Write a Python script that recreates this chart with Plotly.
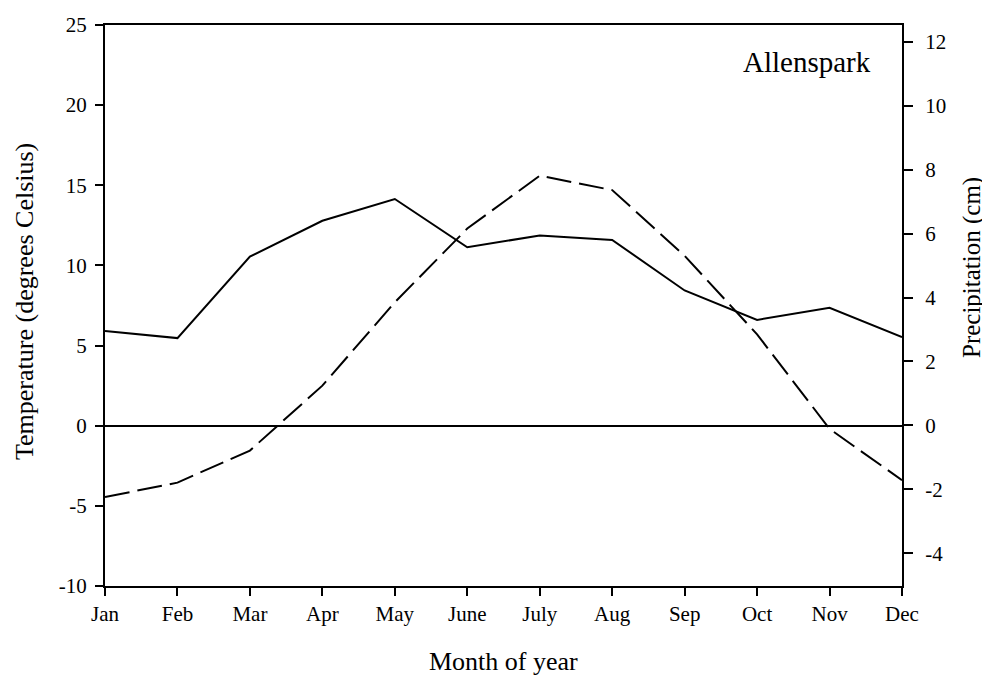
import plotly.graph_objects as go

months = ["Jan", "Feb", "Mar", "Apr", "May", "June", "July", "Aug", "Sep", "Oct", "Nov", "Dec"]
temperature_c = [-4.45, -3.55, -1.55, 2.5, 7.7, 12.3, 15.6, 14.7, 10.6, 5.7, -0.2, -3.4]
precip_cm = [2.95, 2.73, 5.28, 6.4, 7.08, 5.57, 5.94, 5.8, 4.22, 3.3, 3.68, 2.76]
left_ticks = [-10, -5, 0, 5, 10, 15, 20, 25]
right_ticks = [-4, -2, 0, 2, 4, 6, 8, 10, 12]

FONT = "Liberation Serif, Times New Roman, serif"
xs = list(range(len(months)))

# The page body has an 8px default margin; size the figure to reach the window edges
# and place everything in screen pixels.
OFF = 8
W, H = 990 - OFF, 677 - OFF
PLOT_L, PLOT_R, PLOT_T, PLOT_B = 105, 902, 25, 586  # screen pixels
L = PLOT_L - OFF
T = PLOT_T - OFF
R = W - (PLOT_R - OFF)
B = H - (PLOT_B - OFF)

fig = go.Figure()
fig.add_trace(go.Scatter(x=xs, y=precip_cm, mode="lines", yaxis="y2",
                         line=dict(color="black", width=2), name="Precipitation"))
fig.add_trace(go.Scatter(x=xs, y=temperature_c, mode="lines", yaxis="y",
                         line=dict(color="black", width=2, dash="25px,8px"), name="Temperature"))


def px_x(px):
    return (px - PLOT_L) / (PLOT_R - PLOT_L)


def px_y(py):
    return (PLOT_B - py) / (PLOT_B - PLOT_T)


fig.update_layout(
    width=W, height=H,
    margin=dict(l=L, r=R, t=T, b=B, autoexpand=False),
    paper_bgcolor="white", plot_bgcolor="white",
    showlegend=False,
    font=dict(family=FONT, color="black", size=21),
    xaxis=dict(
        range=[0, 11], tickvals=xs, ticktext=months, automargin=False,
        showline=True, linecolor="black", linewidth=2, mirror=True,
        ticks="outside", ticklen=8, tickwidth=2, tickcolor="black",
        showgrid=False, zeroline=False,
        tickfont=dict(size=21, family=FONT),
    ),
    yaxis=dict(
        range=[-10, 25], tickvals=left_ticks, ticktext=[str(v) for v in left_ticks],
        automargin=False,
        showline=True, linecolor="black", linewidth=2,
        ticks="outside", ticklen=8, tickwidth=2, tickcolor="black",
        showgrid=False, zeroline=True, zerolinecolor="black", zerolinewidth=1.5,
        tickfont=dict(size=21, family=FONT), ticklabelstandoff=4,
    ),
    yaxis2=dict(
        range=[-5.02, 12.52], tickvals=right_ticks, ticktext=[str(v) for v in right_ticks],
        overlaying="y", side="right", automargin=False,
        showline=True, linecolor="black", linewidth=2,
        ticks="outside", ticklen=9, tickwidth=1.5, tickcolor="black",
        showgrid=False, zeroline=False,
        tickfont=dict(size=21, family=FONT), ticklabelstandoff=8,
    ),
    annotations=[
        dict(text="Allenspark", xref="paper", yref="paper",
             x=px_x(873), y=px_y(62),
             xanchor="right", yanchor="middle", showarrow=False,
             font=dict(size=29, family=FONT, color="black")),
        dict(text="Month of year", xref="paper", yref="paper",
             x=px_x(503), y=px_y(661),
             xanchor="center", yanchor="middle", showarrow=False,
             font=dict(size=26, family=FONT, color="black")),
        dict(text="Temperature (degrees Celsius)", xref="paper", yref="paper",
             x=px_x(24), y=px_y(302), textangle=-90,
             xanchor="center", yanchor="middle", showarrow=False,
             font=dict(size=26, family=FONT, color="black")),
        dict(text="Precipitation (cm)", xref="paper", yref="paper",
             x=px_x(972), y=px_y(268), textangle=-90,
             xanchor="center", yanchor="middle", showarrow=False,
             font=dict(size=25, family=FONT, color="black")),
    ],
)

fig.write_html("out.html")
